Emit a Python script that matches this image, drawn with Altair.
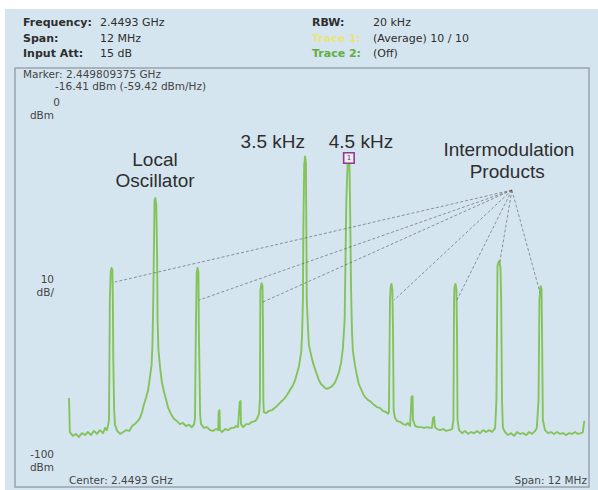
import altair as alt
import pandas as pd

# ---------------------------------------------------------------------------
# Spectrum trace (Trace 1, average 10/10): offset from centre in MHz, level in dBm
# ---------------------------------------------------------------------------
FREQ_MHZ = [
    -6.00, -5.98, -5.91, -5.84, -5.77, -5.70, -5.63, -5.56, -5.49, -5.42, -5.35, -5.28, -5.21, -5.16, -5.12, -5.09,
    -5.07, -5.05, -5.03, -5.01, -4.99, -4.98, -4.97, -4.95, -4.93, -4.88, -4.81, -4.74, -4.67, -4.60, -4.53, -4.47,
    -4.40, -4.35, -4.30, -4.26, -4.21, -4.16, -4.12, -4.08, -4.06, -4.04, -4.02, -4.01, -3.99, -3.97, -3.95, -3.94,
    -3.92, -3.88, -3.84, -3.79, -3.74, -3.70, -3.63, -3.56, -3.49, -3.42, -3.35, -3.28, -3.21, -3.14, -3.09, -3.07,
    -3.05, -3.03, -3.01, -2.99, -2.98, -2.95, -2.93, -2.86, -2.79, -2.72, -2.65, -2.58, -2.53,
    -2.52, -2.50, -2.49, -2.44, -2.37, -2.30, -2.23, -2.16, -2.12, -2.07,
    -2.03, -2.01, -2.00, -1.95, -1.88, -1.81, -1.74, -1.67, -1.63, -1.58, -1.56,
    -1.55, -1.52, -1.50, -1.49, -1.48, -1.47, -1.42, -1.35, -1.28, -1.21, -1.14, -1.07, -1.00, -0.93, -0.86, -0.79,
    -0.74, -0.70, -0.65, -0.60, -0.58, -0.56, -0.55, -0.53,
    -0.51, -0.49, -0.48, -0.47, -0.44, -0.42, -0.37, -0.33, -0.28, -0.23, -0.19, -0.14, -0.09, -0.05, 0.00, 0.05,
    0.09, 0.14, 0.19, 0.23, 0.28, 0.33, 0.37, 0.41, 0.43, 0.45, 0.48,
    0.509375, 0.52, 0.535, 0.56, 0.58, 0.60, 0.65, 0.70, 0.74, 0.79, 0.84, 0.88, 0.95, 1.02, 1.09, 1.16, 1.23, 1.30,
    1.37, 1.42, 1.44,
    1.465, 1.48, 1.50, 1.52, 1.535, 1.55, 1.58, 1.63, 1.70, 1.77, 1.84, 1.88, 1.93,
    1.95, 1.965, 1.99, 2.00, 2.05, 2.12, 2.19, 2.26, 2.33, 2.40, 2.44,
    2.465, 2.49, 2.51, 2.56, 2.63, 2.70, 2.77, 2.84, 2.91, 2.94,
    2.955, 2.965, 2.99, 3.01, 3.025, 3.035, 3.07, 3.14, 3.21, 3.28, 3.35, 3.42, 3.49, 3.56, 3.63, 3.70, 3.77, 3.84, 3.91,
    3.94, 3.965, 3.99, 4.01, 4.035, 4.05, 4.07, 4.09, 4.14, 4.21, 4.28, 4.35, 4.42, 4.49, 4.56, 4.63, 4.70, 4.77, 4.84, 4.88,
    4.92, 4.94, 4.965, 4.99, 5.00, 5.02, 5.07, 5.14, 5.21, 5.28, 5.35, 5.42, 5.49, 5.56, 5.63, 5.70, 5.77, 5.84, 5.91,
    5.95, 5.98, 6.00,
]
LEVEL_DBM = [
    -79.9, -88.9, -89.9, -89.4, -90.2, -89.2, -89.7, -88.9, -89.7, -88.6, -89.4, -88.4, -89.2, -87.8, -88.4, -87.0,
    -85.7, -54.0, -46.6, -45.5, -46.0, -54.0, -69.8, -83.1, -87.0, -88.6, -89.4, -88.9, -88.4, -88.6, -87.3, -86.8,
    -86.0, -85.2, -83.6, -81.7, -79.9, -77.8, -74.6, -71.2, -65.9, -54.0, -35.4, -27.5, -27.0, -28.8, -43.4, -59.3,
    -67.2, -72.0, -75.7, -78.3, -80.4, -82.3, -84.1, -85.4, -86.0, -86.8, -86.5, -87.3, -87.0, -87.6, -86.8, -85.2,
    -61.9, -46.6, -45.5, -46.6, -61.9, -84.4, -86.8, -87.8, -87.6, -88.4, -88.6, -88.1, -88.4,
    -83.6, -83.1, -88.4, -88.9, -88.1, -88.4, -87.8, -87.8, -87.3, -87.6,
    -81.0, -80.7, -86.8, -87.6, -86.8, -86.8, -86.2, -86.0, -85.4, -84.1, -80.4,
    -51.3, -49.5, -50.3, -59.3, -80.4, -83.6, -83.9, -83.3, -83.1, -82.5, -81.7, -80.9, -80.2, -79.1, -77.8, -76.5,
    -75.1, -73.5, -71.4, -67.7, -63.2, -54.0, -35.4, -18.3,
    -16.0, -17.7, -35.4, -54.0, -61.9, -65.9, -68.5, -70.4, -72.2, -73.8, -75.1, -76.2, -76.7, -77.2, -77.5, -77.2,
    -77.0, -76.5, -75.7, -74.6, -73.0, -70.4, -66.7, -59.3, -43.4, -27.5, -17.7,
    -16.41, -16.9, -27.5, -51.3, -61.9, -67.2, -71.2, -74.1, -76.2, -77.5, -78.8, -79.6, -80.4, -80.9, -81.7, -82.3, -82.5, -83.3,
    -83.6, -84.1, -83.6,
    -54.0, -50.5, -49.7, -51.3, -61.9, -83.1, -85.2, -86.0, -86.2, -86.8, -87.0, -86.5, -87.3,
    -83.6, -79.6, -79.4, -85.7, -87.3, -87.6, -87.6, -87.8, -87.6, -87.8, -87.8,
    -85.2, -84.9, -87.6, -88.1, -88.4, -88.1, -88.6, -88.4, -88.1, -85.7,
    -54.0, -50.5, -49.7, -51.3, -64.6, -85.7, -88.4, -89.2, -88.6, -89.4, -88.9, -89.2, -88.6, -89.2, -88.4, -88.9, -88.4, -88.9, -87.8,
    -80.4, -45.0, -43.9, -43.7, -45.5, -54.0, -80.4, -87.8, -88.9, -89.7, -89.2, -89.9, -88.9, -89.4, -89.2, -89.7, -88.9, -89.4, -88.6, -87.8,
    -80.4, -54.0, -50.3, -51.1, -61.9, -85.7, -88.4, -89.2, -88.9, -89.4, -88.9, -89.4, -89.2, -89.7, -89.2, -89.4, -88.9, -89.4, -89.2,
    -88.9, -86.2, -86.0,
]

# Marker 1 reading
MARKER_MHZ = 0.509375          # 2.449809375 GHz
MARKER_DBM = -16.41

# Intermodulation call-out: hub point and the spurs it points to
IMD_HUB_MHZ, IMD_HUB_DBM = 4.30, -24.9
IMD_TARGET_MHZ = [-4.93, -2.98, -1.49, 1.56, 3.02, 4.02, 4.95]
IMD_TARGET_DBM = [-49.2, -54.0, -54.5, -54.0, -54.0, -43.9, -51.9]

# Display settings: 12 MHz span, 0 dBm reference, 10 dB/div
SPAN_MHZ = 12
REF_DBM = 0
DB_PER_DIV = 10
N_DIV = 10

# ---------------------------------------------------------------------------
# Layout (pixels)
# ---------------------------------------------------------------------------
W, H = 516, 378
PAD_L, PAD_T, PAD_R, PAD_B = 69, 96, 13, 16
BG = "#d5e5f0"
GRID = "#dacdd5"
TRACE = "#84c35a"
INK = "#2e2e2e"
SOFT = "#444444"
HEAD_FONT = "DejaVu Sans"
BIG_FONT = "Liberation Sans"

x_scale = alt.Scale(domain=[-SPAN_MHZ / 2, SPAN_MHZ / 2], nice=False, zero=False)
y_scale = alt.Scale(domain=[REF_DBM - N_DIV * DB_PER_DIV, REF_DBM], nice=False, zero=False)
x_grid = [-SPAN_MHZ / 2 + k * SPAN_MHZ / N_DIV for k in range(N_DIV + 1)]
y_grid = [REF_DBM - k * DB_PER_DIV for k in range(N_DIV + 1)]

one = pd.DataFrame({"k": [0]})

# Page decoration: white top/left strips and the display frame
strips = pd.DataFrame({
    "x0": [-PAD_L, -PAD_L], "x1": [W + PAD_R, -PAD_L + 5],
    "y0": [-PAD_T, -PAD_T], "y1": [-PAD_T + 9, H + PAD_B],
})
strip_layer = alt.Chart(strips).mark_rect(color="white").encode(
    x=alt.X("x0:Q", scale=None), x2="x1:Q",
    y=alt.Y("y0:Q", scale=None), y2="y1:Q",
)
frame_layer = alt.Chart(one).mark_rect(fill=None, stroke="#98a3ad", strokeWidth=1.5).encode(
    x=alt.value(-54), x2=alt.value(520), y=alt.value(-28), y2=alt.value(391)
)

# Trace
trace_df = pd.DataFrame({"f": FREQ_MHZ, "p": LEVEL_DBM})
trace_df["i"] = range(len(trace_df))
trace_layer = alt.Chart(trace_df).mark_line(color=TRACE, strokeWidth=1.9, strokeJoin="round").encode(
    x=alt.X("f:Q", scale=x_scale,
            axis=alt.Axis(values=x_grid, grid=True, labels=False, ticks=False, domain=False, title=None,
                          gridColor=GRID, gridWidth=1, gridOpacity=1)),
    y=alt.Y("p:Q", scale=y_scale,
            axis=alt.Axis(values=y_grid, grid=True, labels=False, ticks=False, domain=False, title=None,
                          gridColor=GRID, gridWidth=1, gridOpacity=1)),
    order="i:Q",
)

# Intermodulation leader lines
imd_df = pd.DataFrame({
    "f0": [IMD_HUB_MHZ] * len(IMD_TARGET_MHZ), "p0": [IMD_HUB_DBM] * len(IMD_TARGET_MHZ),
    "f1": IMD_TARGET_MHZ, "p1": IMD_TARGET_DBM,
})
imd_layer = alt.Chart(imd_df).mark_rule(color="#555555", strokeWidth=0.7, strokeDash=[3, 2], opacity=0.85).encode(
    x=alt.X("f0:Q", scale=x_scale, axis=None), y=alt.Y("p0:Q", scale=y_scale, axis=None),
    x2="f1:Q", y2="p1:Q",
)

# Marker 1 box
marker_df = pd.DataFrame({"f": [MARKER_MHZ], "p": [MARKER_DBM]})
marker_layer = alt.Chart(marker_df).mark_point(
    shape="square", size=110, filled=True, fill="#f1ecf4", stroke="#8d3b8c", strokeWidth=1.6, opacity=1
).encode(x=alt.X("f:Q", scale=x_scale, axis=None), y=alt.Y("p:Q", scale=y_scale, axis=None))
marker_num = alt.Chart(marker_df).mark_text(text="1", fontSize=7, font=HEAD_FONT, color="#5a3a5a").encode(
    x=alt.X("f:Q", scale=x_scale, axis=None), y=alt.Y("p:Q", scale=y_scale, axis=None))

# Call-out labels placed on the spectrum
callouts = pd.DataFrame({
    "t": ["Local", "Oscillator", "3.5 kHz", "4.5 kHz", "Intermodulation", "Products"],
    "f": [-4.00, -4.00, -1.26, 0.79, 4.23, 4.19],
    "p": [-16.9, -22.5, -12.2, -12.2, -14.3, -20.1],
})
callout_layer = alt.Chart(callouts).mark_text(font=BIG_FONT, fontSize=19, color=INK, align="center",
                                              baseline="middle").encode(
    x=alt.X("f:Q", scale=x_scale, axis=None), y=alt.Y("p:Q", scale=y_scale, axis=None), text="t:N")


def text_layer(rows, **kw):
    df = pd.DataFrame(rows, columns=["t", "px", "py", "c"])
    return alt.Chart(df).mark_text(font=HEAD_FONT, baseline="middle", **kw).encode(
        x=alt.X("px:Q", scale=None), y=alt.Y("py:Q", scale=None), text="t:N",
        color=alt.Color("c:N", scale=None))


# Instrument header (positions relative to the plot origin)
head_bold = text_layer([
    ("Frequency:", -46, -73, INK), ("Span:", -46, -57, INK), ("Input Att:", -46, -42, INK),
    ("RBW:", 243, -73, INK), ("Trace 1:", 243, -57, "#e9e47c"), ("Trace 2:", 243, -42, "#62ad40"),
], fontSize=11, fontWeight="bold", align="left")
head_vals = text_layer([
    ("2.4493 GHz", 31, -73, INK), ("12 MHz", 31, -57, INK), ("15 dB", 31, -42, INK),
    ("20 kHz", 304, -73, INK), ("(Average)  10 / 10", 304, -57, INK), ("(Off)", 304, -42, INK),
], fontSize=11, align="left")
panel_left = text_layer([
    ("Marker: 2.449809375 GHz", -46, -21, SOFT), ("-16.41 dBm (-59.42 dBm/Hz)", -14, -9, SOFT),
    ("Center: 2.4493 GHz", 0, 385, SOFT),
], fontSize=10.5, align="left")
panel_right = text_layer([
    ("0", -9, 7, SOFT), ("dBm", -15, 20, SOFT),
    ("10", -15, 184, SOFT), ("dB/", -15, 197, SOFT),
    ("-100", -15, 359, SOFT), ("dBm", -15, 372, SOFT),
    ("Span: 12 MHz", 518, 385, SOFT),
], fontSize=10.5, align="right")

chart = alt.layer(
    strip_layer, frame_layer, trace_layer, imd_layer, marker_layer, marker_num,
    callout_layer, head_bold, head_vals, panel_left, panel_right,
).properties(
    width=W, height=H,
    padding={"left": PAD_L, "top": PAD_T, "right": PAD_R, "bottom": PAD_B},
    autosize=alt.AutoSizeParams(type="none"),
    background=BG,
).configure_view(stroke=None)

chart.save("out.html", embed_options={"renderer": "svg", "actions": False})
